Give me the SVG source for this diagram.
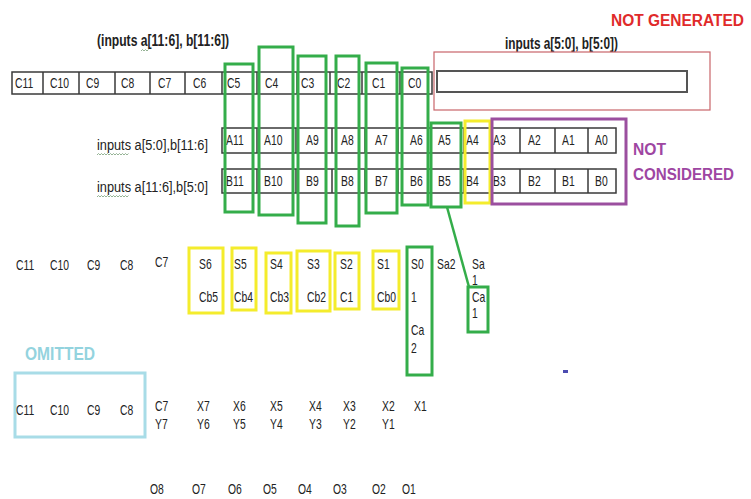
<svg xmlns="http://www.w3.org/2000/svg" width="751" height="499" viewBox="0 0 751 499">
<defs>
<style>
.t{font-family:'Liberation Sans',Arial,sans-serif;font-size:14px;fill:#222;transform-box:fill-box;transform-origin:0 50%;transform:scaleX(0.74)}
.l{font-family:'Liberation Sans',Arial,sans-serif;font-size:14px;fill:#222}
.h{font-family:'Liberation Sans',Arial,sans-serif;font-size:16px;font-weight:bold;fill:#222}
.big{font-family:'Liberation Sans',Arial,sans-serif;font-size:18px;font-weight:bold}
.big2{font-family:'Liberation Sans',Arial,sans-serif;font-size:16px;font-weight:bold}
.cell{fill:#fff;stroke:#3a3a3a;stroke-width:1.5}
.sep{stroke:#3a3a3a;stroke-width:1.5}
.g{fill:none;stroke:#34ad4a;stroke-width:3}
.y{fill:none;stroke:#f4ec2c;stroke-width:3}
.sq{fill:none;stroke:#7aa07a;stroke-width:0.8}
</style>
</defs>
<rect width="751" height="499" fill="#fff"/>

<g id="title-left"><text class="h" x="97" y="46" textLength="132" lengthAdjust="spacingAndGlyphs">(inputs a[11:6], b[11:6])</text>
<path class="sq" d="M141 51 l1.5 -1.5 l1.5 1.5 l1.5 -1.5 l1.5 1.5 l1.5 -1.5"/></g>
<g id="title-right"><text class="h" x="505" y="49" textLength="113" lengthAdjust="spacingAndGlyphs">inputs a[5:0], b[5:0])</text></g>
<g id="not-generated-label"><text class="big2" x="611" y="26" fill="#e02a2a" textLength="133" lengthAdjust="spacingAndGlyphs">NOT GENERATED</text></g>

<g id="not-generated-box">
<rect x="434" y="52" width="276" height="58" fill="none" stroke="#c9646a" stroke-width="1.2"/>
<rect x="437" y="71" width="250" height="21" fill="#fff" stroke="#555" stroke-width="2"/>
</g>

<g id="c-row">
<rect class="cell" x="12" y="72" width="420" height="22"/>
<path class="sep" d="M43 72v22M79 72v22M115 72v22M150 72v22M185 72v22M222 72v22M257 72v22M297 72v22M330 72v22M362 72v22M400 72v22"/>
<text class="t" x="15" y="88">C11</text><text class="t" x="50" y="88">C10</text><text class="t" x="86" y="88">C9</text><text class="t" x="121" y="88">C8</text><text class="t" x="158" y="88">C7</text><text class="t" x="193" y="88">C6</text><text class="t" x="227" y="88">C5</text><text class="t" x="265" y="88">C4</text><text class="t" x="301" y="88">C3</text><text class="t" x="337" y="88">C2</text><text class="t" x="372" y="88">C1</text><text class="t" x="408" y="88">C0</text>
</g>

<g id="a-row">
<text class="l" x="97" y="150" textLength="111" lengthAdjust="spacingAndGlyphs">inputs a[5:0],b[11:6]</text>
<path class="sq" d="M97 155 l1.5 -1.5 l1.5 1.5 l1.5 -1.5 l1.5 1.5 l1.5 -1.5 l1.5 1.5 l1.5 -1.5 l1.5 1.5 l1.5 -1.5 l1.5 1.5 l1.5 -1.5 l1.5 1.5 l1.5 -1.5 l1.5 1.5 l1.5 -1.5 l1.5 1.5 l1.5 -1.5 l1.5 1.5 l1.5 -1.5 l1.5 1.5 l1.5 -1.5"/>
<rect class="cell" x="222" y="128" width="394" height="25"/>
<path class="sep" d="M257 128v25M296 128v25M332 128v25M365 128v25M398 128v25M431 128v25M464 128v25M490 128v25M520 128v25M555 128v25M588 128v25"/>
<text class="t" x="226" y="145">A11</text><text class="t" x="264" y="145">A10</text><text class="t" x="306" y="145">A9</text><text class="t" x="341" y="145">A8</text><text class="t" x="375" y="145">A7</text><text class="t" x="410" y="145">A6</text><text class="t" x="438" y="145">A5</text><text class="t" x="466" y="145">A4</text><text class="t" x="493" y="145">A3</text><text class="t" x="528" y="145">A2</text><text class="t" x="562" y="145">A1</text><text class="t" x="595" y="145">A0</text>
</g>

<g id="b-row">
<text class="l" x="97" y="192" textLength="111" lengthAdjust="spacingAndGlyphs">inputs a[11:6],b[5:0]</text>
<path class="sq" d="M97 197 l1.5 -1.5 l1.5 1.5 l1.5 -1.5 l1.5 1.5 l1.5 -1.5 l1.5 1.5 l1.5 -1.5 l1.5 1.5 l1.5 -1.5 l1.5 1.5 l1.5 -1.5 l1.5 1.5 l1.5 -1.5 l1.5 1.5 l1.5 -1.5 l1.5 1.5 l1.5 -1.5 l1.5 1.5 l1.5 -1.5 l1.5 1.5 l1.5 -1.5"/>
<rect class="cell" x="222" y="169" width="394" height="24"/>
<path class="sep" d="M257 169v24M296 169v24M332 169v24M365 169v24M398 169v24M431 169v24M464 169v24M490 169v24M520 169v24M555 169v24M588 169v24"/>
<text class="t" x="226" y="186">B11</text><text class="t" x="264" y="186">B10</text><text class="t" x="306" y="186">B9</text><text class="t" x="341" y="186">B8</text><text class="t" x="375" y="186">B7</text><text class="t" x="410" y="186">B6</text><text class="t" x="438" y="186">B5</text><text class="t" x="466" y="186">B4</text><text class="t" x="493" y="186">B3</text><text class="t" x="528" y="186">B2</text><text class="t" x="562" y="186">B1</text><text class="t" x="595" y="186">B0</text>
</g>

<g id="green-columns">
<rect class="g" x="225" y="64" width="28" height="148"/>
<rect class="g" x="259" y="47" width="34" height="168"/>
<rect class="g" x="298" y="56" width="28" height="167"/>
<rect class="g" x="336" y="56" width="23" height="170"/>
<rect class="g" x="366" y="63" width="31" height="150"/>
<rect class="g" x="402" y="68" width="26" height="137"/>
<rect class="g" x="431" y="123" width="30" height="84"/>
</g>

<g id="a4-box"><rect class="y" x="465" y="121" width="25" height="82"/></g>

<g id="not-considered">
<rect x="492" y="119" width="134" height="85" fill="none" stroke="#9b4f9f" stroke-width="3"/>
<text class="big2" x="633" y="155" fill="#9e46a2" textLength="33" lengthAdjust="spacingAndGlyphs">NOT</text>
<text class="big2" x="633" y="180" fill="#9e46a2" textLength="101" lengthAdjust="spacingAndGlyphs">CONSIDERED</text>
</g>

<g id="s-row">
<text class="t" x="16" y="270">C11</text><text class="t" x="50" y="270">C10</text><text class="t" x="87" y="270">C9</text><text class="t" x="120" y="270">C8</text><text class="t" x="155" y="267">C7</text>
</g>
<g id="s6"><rect class="y" x="189" y="248" width="34" height="65"/><text class="t" x="199" y="269">S6</text><text class="t" x="199" y="302">Cb5</text></g>
<g id="s5"><rect class="y" x="232" y="248" width="24" height="62"/><text class="t" x="234" y="269">S5</text><text class="t" x="234" y="302">Cb4</text></g>
<g id="s4"><rect class="y" x="266" y="253" width="25" height="60"/><text class="t" x="270" y="269">S4</text><text class="t" x="270" y="302">Cb3</text></g>
<g id="s3"><rect class="y" x="297" y="251" width="33" height="60"/><text class="t" x="307" y="269">S3</text><text class="t" x="307" y="302">Cb2</text></g>
<g id="s2"><rect class="y" x="335" y="253" width="24" height="56"/><text class="t" x="340" y="269">S2</text><text class="t" x="340" y="302">C1</text></g>
<g id="s1"><rect class="y" x="373" y="251" width="26" height="58"/><text class="t" x="377" y="269">S1</text><text class="t" x="377" y="302">Cb0</text></g>
<g id="s0"><rect class="g" x="407" y="247" width="25" height="128"/><text class="t" x="411" y="269">S0</text><text class="t" x="411" y="302">1</text><text class="t" x="411" y="335">Ca</text><text class="t" x="411" y="353">2</text></g>
<g id="sa2"><text class="t" x="437" y="269">Sa2</text></g>
<g id="sa1"><text class="t" x="472" y="269">Sa</text><text class="t" x="472" y="285">1</text></g>
<g id="ca1"><rect class="g" x="468" y="287" width="20" height="45"/><text class="t" x="472" y="302">Ca</text><text class="t" x="472" y="318">1</text></g>

<g id="connectors"><path d="M447 207 L469 287" fill="none" stroke="#34ad4a" stroke-width="2.5"/></g>

<g id="omitted">
<text class="big" x="25" y="360" fill="#93d3de" textLength="70" lengthAdjust="spacingAndGlyphs">OMITTED</text>
<rect x="15" y="373" width="130" height="64" fill="none" stroke="#a8dce7" stroke-width="3"/>
<text class="t" x="16" y="415">C11</text><text class="t" x="50" y="415">C10</text><text class="t" x="87" y="415">C9</text><text class="t" x="120" y="415">C8</text>
</g>

<g id="xy-row">
<text class="t" x="155" y="411">C7</text><text class="t" x="155" y="429">Y7</text>
<text class="t" x="197" y="411">X7</text><text class="t" x="197" y="429">Y6</text>
<text class="t" x="233" y="411">X6</text><text class="t" x="233" y="429">Y5</text>
<text class="t" x="270" y="411">X5</text><text class="t" x="270" y="429">Y4</text>
<text class="t" x="309" y="411">X4</text><text class="t" x="309" y="429">Y3</text>
<text class="t" x="343" y="411">X3</text><text class="t" x="343" y="429">Y2</text>
<text class="t" x="382" y="411">X2</text><text class="t" x="382" y="429">Y1</text>
<text class="t" x="414" y="411">X1</text>
</g>

<g id="dot"><rect x="563" y="370" width="5" height="3" fill="#4b4bb0"/></g>

<g id="o-row">
<text class="t" x="150" y="494">O8</text><text class="t" x="192" y="494">O7</text><text class="t" x="228" y="494">O6</text><text class="t" x="263" y="494">O5</text><text class="t" x="298" y="494">O4</text><text class="t" x="333" y="494">O3</text><text class="t" x="372" y="494">O2</text><text class="t" x="402" y="494">O1</text>
</g>
</svg>
